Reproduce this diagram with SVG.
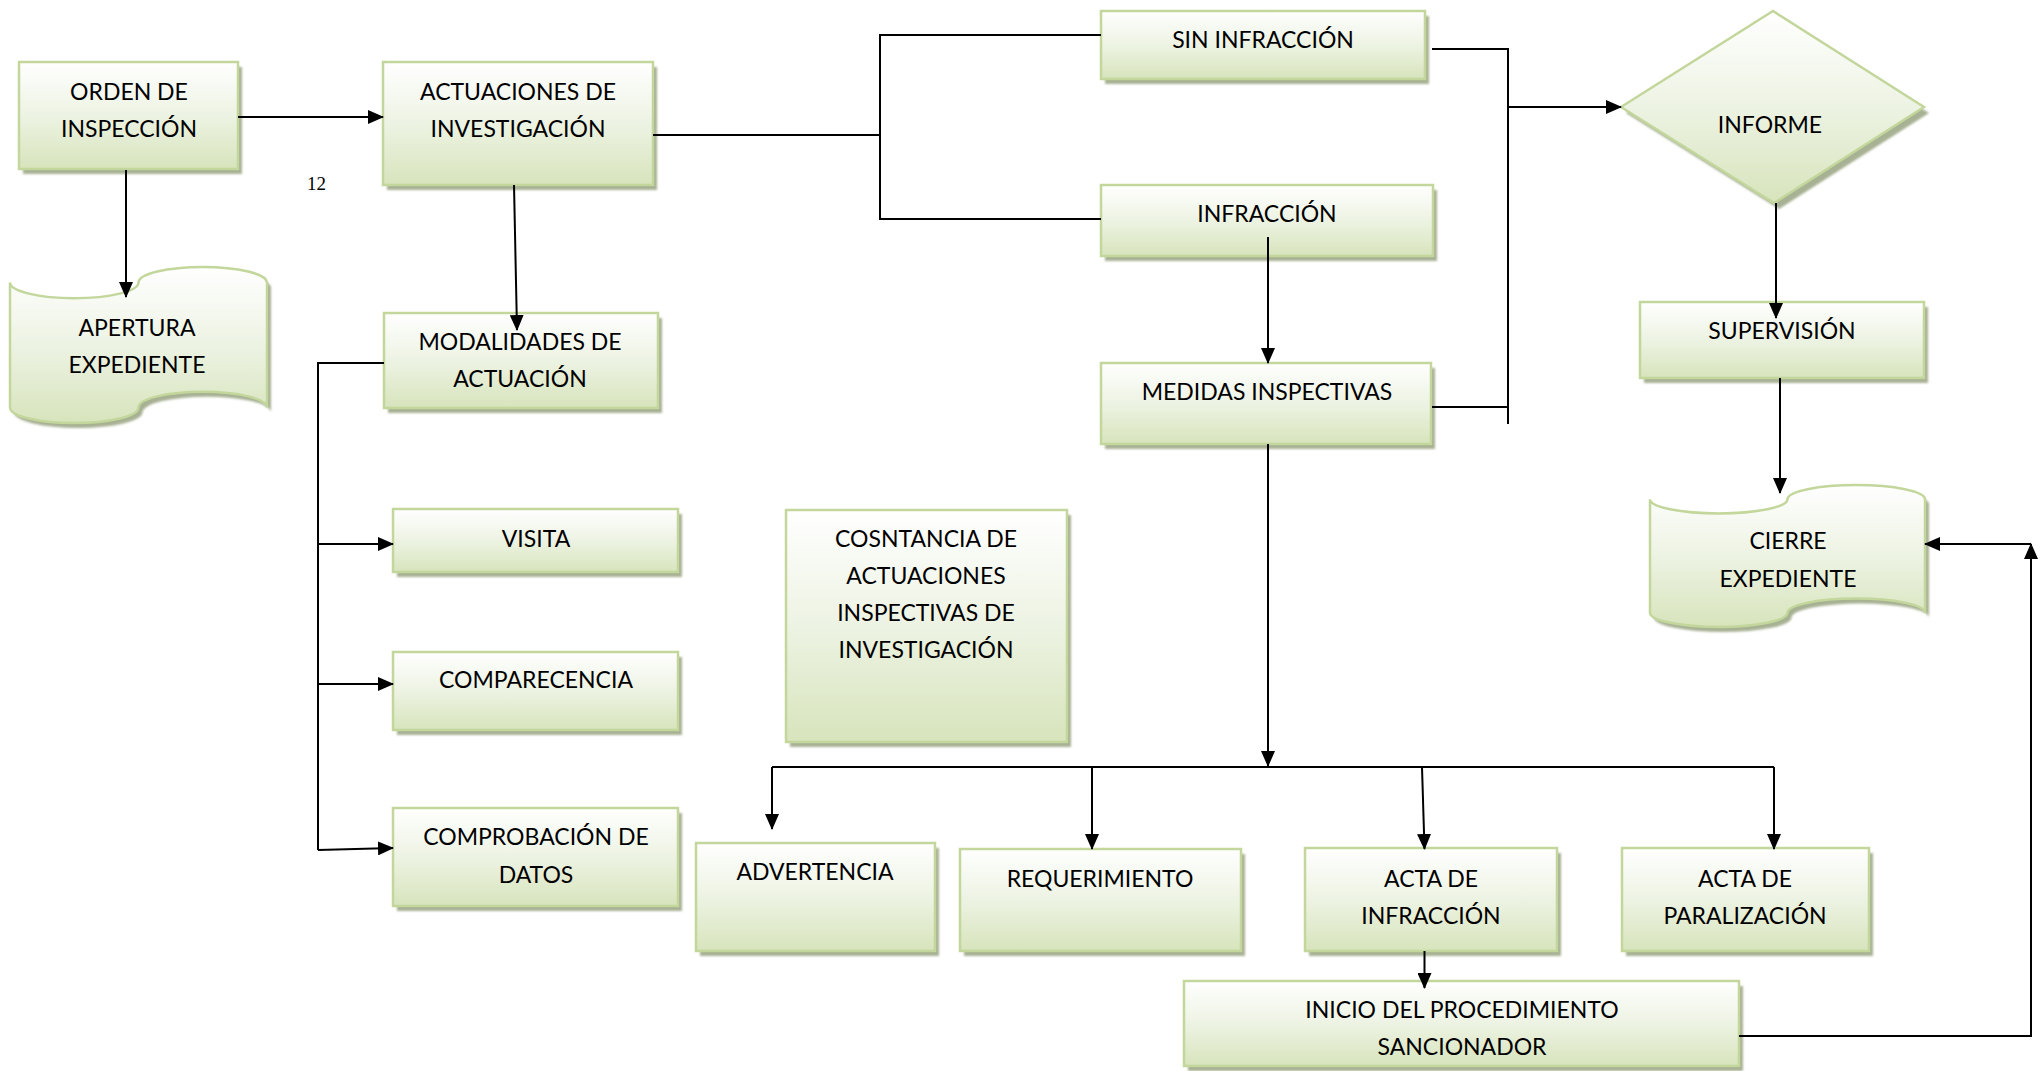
<svg xmlns="http://www.w3.org/2000/svg" width="2043" height="1071" viewBox="0 0 2043 1071">
<style>
.box{fill:url(#g);stroke:#c3d69b;stroke-width:2.5}
.sh{fill:#a7b193;filter:url(#blur)}
.t{font-family:Lato,"Open Sans","Liberation Sans",sans-serif;font-size:23px;fill:#000;text-anchor:middle}
.n{font-family:"Liberation Serif","Times New Roman",serif;font-size:19px;fill:#000}
.c{fill:none;stroke:#000;stroke-width:2}
.a{marker-end:url(#ah)}
</style>
<defs>
<linearGradient id="g" x1="0" y1="0" x2="0" y2="1">
<stop offset="0" stop-color="#ffffff"/>
<stop offset="0.5" stop-color="#edf3e3"/>
<stop offset="1" stop-color="#d7e4bc"/>
</linearGradient>
<filter id="blur" x="-5%" y="-5%" width="110%" height="110%"><feGaussianBlur stdDeviation="1"/></filter>
<marker id="ah" markerUnits="userSpaceOnUse" markerWidth="16" markerHeight="14" refX="15" refY="7" orient="auto">
<path d="M0,0 L16,7 L0,14 Z" fill="#000"/>
</marker>
</defs>

<g id="orden">
<rect class="sh" x="23" y="67" width="219" height="107"/>
<rect class="box" x="19" y="62" width="219" height="107"/>
<text class="t" x="129" y="100">ORDEN DE</text>
<text class="t" x="129" y="137">INSPECCIÓN</text>
</g>

<g id="actuaciones">
<rect class="sh" x="387" y="67" width="270" height="123"/>
<rect class="box" x="383" y="62" width="270" height="123"/>
<text class="t" x="518" y="100">ACTUACIONES DE</text>
<text class="t" x="518" y="137">INVESTIGACIÓN</text>
</g>

<text class="n" x="307" y="190">12</text>

<g id="apertura">
<path class="sh" transform="translate(4,5)" d="M10,282.6 A64.25,15.6 0 0 0 138.5,282.6 A64.25,15.6 0 0 1 267,282.6 L267,407.4 A64.25,15.6 0 0 0 138.5,407.4 A64.25,15.6 0 0 1 10,407.4 Z"/>
<path class="box" d="M10,282.6 A64.25,15.6 0 0 0 138.5,282.6 A64.25,15.6 0 0 1 267,282.6 L267,407.4 A64.25,15.6 0 0 0 138.5,407.4 A64.25,15.6 0 0 1 10,407.4 Z"/>
<text class="t" x="137" y="336">APERTURA</text>
<text class="t" x="137" y="373">EXPEDIENTE</text>
</g>

<g id="modalidades">
<rect class="sh" x="388" y="318" width="274" height="95"/>
<rect class="box" x="384" y="313" width="274" height="95"/>
<text class="t" x="520" y="350">MODALIDADES DE</text>
<text class="t" x="520" y="387">ACTUACIÓN</text>
</g>

<g id="visita">
<rect class="sh" x="397" y="514" width="285" height="63"/>
<rect class="box" x="393" y="509" width="285" height="63"/>
<text class="t" x="536" y="547">VISITA</text>
</g>

<g id="comparecencia">
<rect class="sh" x="397" y="657" width="285" height="78"/>
<rect class="box" x="393" y="652" width="285" height="78"/>
<text class="t" x="536" y="688">COMPARECENCIA</text>
</g>

<g id="comprobacion">
<rect class="sh" x="397" y="813" width="285" height="98"/>
<rect class="box" x="393" y="808" width="285" height="98"/>
<text class="t" x="536" y="845">COMPROBACIÓN DE</text>
<text class="t" x="536" y="883">DATOS</text>
</g>

<g id="cosntancia">
<rect class="sh" x="790" y="515" width="281" height="232"/>
<rect class="box" x="786" y="510" width="281" height="232"/>
<text class="t" x="926" y="547">COSNTANCIA DE</text>
<text class="t" x="926" y="584">ACTUACIONES</text>
<text class="t" x="926" y="621">INSPECTIVAS DE</text>
<text class="t" x="926" y="658">INVESTIGACIÓN</text>
</g>

<g id="sin-infraccion">
<rect class="sh" x="1105" y="16" width="324" height="68"/>
<rect class="box" x="1101" y="11" width="324" height="68"/>
<text class="t" x="1263" y="48">SIN INFRACCIÓN</text>
</g>

<g id="infraccion">
<rect class="sh" x="1105" y="190" width="332" height="71"/>
<rect class="box" x="1101" y="185" width="332" height="71"/>
<text class="t" x="1267" y="222">INFRACCIÓN</text>
</g>

<g id="medidas">
<rect class="sh" x="1105" y="368" width="330" height="81"/>
<rect class="box" x="1101" y="363" width="330" height="81"/>
<text class="t" x="1267" y="400">MEDIDAS INSPECTIVAS</text>
</g>

<g id="informe">
<path class="sh" transform="translate(5,6)" d="M1621,107 L1773,11 L1924,107 L1774,203 Z"/>
<path class="box" d="M1621,107 L1773,11 L1924,107 L1774,203 Z"/>
<text class="t" x="1770" y="133">INFORME</text>
</g>

<g id="supervision">
<rect class="sh" x="1644" y="307" width="284" height="76"/>
<rect class="box" x="1640" y="302" width="284" height="76"/>
<text class="t" x="1782" y="339">SUPERVISIÓN</text>
</g>

<g id="cierre">
<path class="sh" transform="translate(4,5)" d="M1650,499.2 A68.75,14.2 0 0 0 1787.5,499.2 A68.75,14.2 0 0 1 1925,499.2 L1925,612.8 A68.75,14.2 0 0 0 1787.5,612.8 A68.75,14.2 0 0 1 1650,612.8 Z"/>
<path class="box" d="M1650,499.2 A68.75,14.2 0 0 0 1787.5,499.2 A68.75,14.2 0 0 1 1925,499.2 L1925,612.8 A68.75,14.2 0 0 0 1787.5,612.8 A68.75,14.2 0 0 1 1650,612.8 Z"/>
<text class="t" x="1788" y="549">CIERRE</text>
<text class="t" x="1788" y="587">EXPEDIENTE</text>
</g>

<g id="advertencia">
<rect class="sh" x="700" y="848" width="239" height="108"/>
<rect class="box" x="696" y="843" width="239" height="108"/>
<text class="t" x="815" y="880">ADVERTENCIA</text>
</g>

<g id="requerimiento">
<rect class="sh" x="964" y="854" width="281" height="102"/>
<rect class="box" x="960" y="849" width="281" height="102"/>
<text class="t" x="1100" y="887">REQUERIMIENTO</text>
</g>

<g id="acta-infraccion">
<rect class="sh" x="1309" y="853" width="252" height="103"/>
<rect class="box" x="1305" y="848" width="252" height="103"/>
<text class="t" x="1431" y="887">ACTA DE</text>
<text class="t" x="1431" y="924">INFRACCIÓN</text>
</g>

<g id="acta-paralizacion">
<rect class="sh" x="1626" y="853" width="247" height="103"/>
<rect class="box" x="1622" y="848" width="247" height="103"/>
<text class="t" x="1745" y="887">ACTA DE</text>
<text class="t" x="1745" y="924">PARALIZACIÓN</text>
</g>

<g id="inicio">
<rect class="sh" x="1188" y="986" width="555" height="85"/>
<rect class="box" x="1184" y="981" width="555" height="85"/>
<text class="t" x="1462" y="1018">INICIO DEL PROCEDIMIENTO</text>
<text class="t" x="1462" y="1055">SANCIONADOR</text>
</g>

<g id="connectors">
<path class="c a" d="M238,117 L383,117"/>
<path class="c a" d="M126,170 L126,297"/>
<path class="c a" d="M514,185 L517,330"/>
<path class="c" d="M653,135 L880,135"/>
<path class="c" d="M1101,35 L880,35 L880,219 L1101,219"/>
<path class="c" d="M1432,49 L1508,49 L1508,424"/>
<path class="c" d="M1432,407 L1508,407"/>
<path class="c a" d="M1508,107 L1621,107"/>
<path class="c a" d="M1268,237 L1268,363"/>
<path class="c a" d="M1776,203 L1776,318"/>
<path class="c a" d="M1780,378 L1780,493"/>
<path class="c a" d="M1268,444 L1268,766"/>
<path class="c" d="M772,767 L1774,767"/>
<path class="c a" d="M772,767 L772,829"/>
<path class="c a" d="M1092,767 L1092,849"/>
<path class="c a" d="M1422,767 L1424.5,849"/>
<path class="c a" d="M1774,767 L1774,849"/>
<path class="c a" d="M1424.5,951 L1424.5,988"/>
<path class="c a" d="M1739,1036 L2031,1036 L2031,544"/>
<path class="c a" d="M2031,544 L1925,544"/>
<path class="c" d="M384,363 L318,363 L318,850"/>
<path class="c a" d="M318,544 L393,544"/>
<path class="c a" d="M318,684 L393,684"/>
<path class="c a" d="M318,850 L393,848"/>
</g>
</svg>
